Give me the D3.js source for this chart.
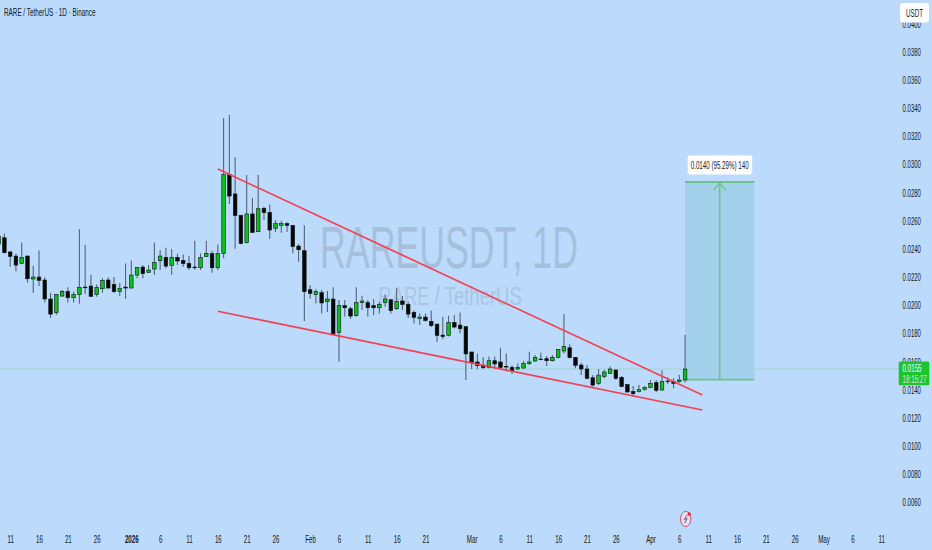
<!DOCTYPE html>
<html>
<head>
<meta charset="utf-8">
<script src="https://cdn.jsdelivr.net/npm/d3@7/dist/d3.min.js"></script>
<style>
  html, body { margin: 0; padding: 0; background: #bbdafc; overflow: hidden; }
  text { font-family: "Liberation Sans", sans-serif; }
</style>
</head>
<body>
<script>
// daily candles, 9 Dec 2025 to 7 Apr 2026
const firstDay = new Date(Date.UTC(2025, 11, 9));
const opens = [
  .02436,.02481,.02380,.02351,.02297,.02351,.02188,.02202,.02181,.02046,.01949,.02067,.02100,.02055,.02077,.02131,.02138,.02077,.02119,.02181,.02150,.02098,.02131,
  .02124,.02216,.02273,.02235,.02259,.02318,.02342,.02283,.02342,.02320,.02299,.02273,.02268,.02347,.02368,.02268,.02368,.02929,.02792,.02640,.02446,.02650,.02524,.02690,.02661,.02548,.02569,.02581,.02569,.02422,
  .02389,.02112,.02077,.02091,.02027,.02046,.01807,.01999,.01977,.01928,.02020,.02020,.01999,.01984,.02020,.02041,.01977,.02032,.02008,.01951,.01906,.01918,.01887,.01868,.01790,.01788,.01880,.01861,
  .01850,.01670,.01599,.01577,.01559,.01608,.01599,.01568,.01561,.01549,.01556,.01587,.01606,.01620,.01622,.01608,.01630,.01677,.01700,.01632,.01577,.01549,.01487,.01447,.01495,.01518,.01542,.01490,
  .01438,.01390,.01388,.01405,.01417,.01452,.01400,.01464,.01461,.01459,.01471
];
const closes = [
  .02493,.02375,.02349,.02287,.02342,.02190,.02202,.02178,.02046,.01939,.02079,.02100,.02055,.02079,.02129,.02126,.02065,.02129,.02178,.02124,.02098,.02122,.02124,
  .02216,.02271,.02226,.02252,.02306,.02351,.02280,.02342,.02316,.02297,.02268,.02268,.02342,.02370,.02268,.02368,.02929,.02777,.02638,.02441,.02650,.02519,.02687,.02659,.02536,.02581,.02581,.02569,.02418,.02396,
  .02098,.02086,.02100,.02018,.02046,.01795,.01999,.01984,.01925,.02020,.02032,.01984,.01984,.02008,.02046,.01963,.02029,.02008,.01939,.01916,.01918,.01894,.01857,.01788,.01779,.01880,.01847,.01835,
  .01656,.01594,.01573,.01559,.01608,.01585,.01561,.01563,.01535,.01561,.01589,.01599,.01632,.01615,.01608,.01632,.01689,.01708,.01630,.01575,.01549,.01483,.01435,.01506,.01528,.01549,.01483,.01424,
  .01386,.01374,.01402,.01417,.01447,.01398,.01459,.01459,.01447,.01471,.01549
];
const highs = [
  .02512,.02512,.02389,.02370,.02448,.02355,.02283,.02391,.02200,.02091,.02081,.02110,.02129,.02100,.02541,.02432,.02219,.02150,.02193,.02200,.02202,.02160,.02299,
  .02320,.02273,.02285,.02287,.02448,.02394,.02410,.02401,.02368,.02363,.02351,.02460,.02370,.02460,.02389,.02434,.03331,.03353,.03052,.02645,.02926,.02763,.02926,.02702,.02718,.02607,.02602,.02593,.02572,.02436,
  .02569,.02143,.02115,.02110,.02103,.02129,.02039,.02039,.01991,.02129,.02070,.02039,.02044,.02027,.02079,.02046,.02122,.02067,.02027,.01963,.01944,.01944,.01963,.01868,.01921,.01928,.01932,.01951,
  .01850,.01670,.01660,.01632,.01637,.01637,.01700,.01660,.01575,.01589,.01608,.01672,.01648,.01667,.01641,.01648,.01689,.01940,.01724,.01632,.01594,.01577,.01506,.01549,.01542,.01566,.01547,.01499,
  .01442,.01428,.01435,.01428,.01471,.01471,.01540,.01490,.01483,.01509,.01790
];
const lows = [
  .02418,.02370,.02275,.02242,.02294,.02162,.02091,.02138,.02022,.01911,.01932,.02063,.02022,.02022,.02013,.02081,.02063,.02063,.02089,.02122,.02091,.02067,.02048,
  .02124,.02193,.02193,.02233,.02219,.02252,.02264,.02219,.02287,.02275,.02252,.02254,.02252,.02344,.02233,.02252,.02335,.02721,.02403,.02434,.02441,.02515,.02522,.02607,.02472,.02522,.02517,.02522,.02370,.02311,
  .01890,.02048,.02015,.01944,.01954,.01793,.01601,.01920,.01904,.01920,.01968,.01920,.01930,.01944,.01991,.01944,.01968,.01968,.01911,.01873,.01861,.01885,.01845,.01741,.01760,.01779,.01838,.01802,
  .01471,.01549,.01549,.01549,.01554,.01549,.01542,.01535,.01514,.01542,.01549,.01577,.01599,.01613,.01570,.01603,.01625,.01660,.01622,.01554,.01506,.01476,.01424,.01435,.01483,.01514,.01471,.01419,
  .01381,.01353,.01383,.01395,.01412,.01386,.01395,.01442,.01412,.01452,.01454
];

// axis labels
const priceTicks = [.0060,.0080,.0100,.0120,.0140,.0160,.0180,.0200,.0220,.0240,.0260,.0280,.0300,.0320,.0340,.0360,.0380,.0400];
const timeTicks = [
  [2025,11,11],[2025,11,16],[2025,11,21],[2025,11,26],[2026,0,1],[2026,0,6],[2026,0,11],[2026,0,16],[2026,0,21],[2026,0,26],
  [2026,1,1],[2026,1,6],[2026,1,11],[2026,1,16],[2026,1,21],[2026,2,1],[2026,2,6],[2026,2,11],[2026,2,16],[2026,2,21],[2026,2,26],
  [2026,3,1],[2026,3,6],[2026,3,11],[2026,3,16],[2026,3,21],[2026,3,26],[2026,4,1],[2026,4,6],[2026,4,11]
].map(d => new Date(Date.UTC(d[0], d[1], d[2])));

// drawings: [day, price] pairs, days counted from 1 Jan 2026
const upperTrend = [[15, .02969], [99, .01364]];
const lowerTrend = [[15, .01959], [99, .01258]];
const targetDays = [96, 108];
const targetPrices = [.01473, .02877];
const targetLabel = "0.0140 (95.29%) 140";
const lastPrice = .0155;

const width = 932, height = 550;
const textColor = "#131722";

const day0 = Date.UTC(2026, 0, 1);
const dayDate = d => new Date(day0 + d * 864e5);
const days = opens.map((_, i) => d3.utcDay.offset(firstDay, i));

const x = d3.scaleUtc()
    .domain([dayDate(0), dayDate(95)])
    .range([131.3, 679.3]);
const y = d3.scaleLinear()
    .domain([.014, .038])
    .range([390, 52]);

const svg = d3.select("body").append("svg")
    .attr("width", width)
    .attr("height", height)
    .style("display", "block");

svg.append("rect")
    .attr("width", width)
    .attr("height", height)
    .attr("fill", "#bbdafc");

// squeeze text to the narrow look of the reference
function narrow(sel, k) {
  sel.each(function() {
    d3.select(this)
        .attr("lengthAdjust", "spacingAndGlyphs")
        .attr("textLength", this.getComputedTextLength() * k);
  });
}

// watermark
svg.append("text")
    .attr("x", 449).attr("y", 268)
    .attr("text-anchor", "middle")
    .attr("font-size", 60)
    .attr("fill", "#a6c0dc")
    .text("RAREUSDT, 1D")
    .call(narrow, 0.595);
svg.append("text")
    .attr("x", 450).attr("y", 305)
    .attr("text-anchor", "middle")
    .attr("font-size", 25)
    .attr("fill", "#abc5e2")
    .text("RARE / TetherUS")
    .call(narrow, 0.74);

// last price line
svg.append("line")
    .attr("x1", 0).attr("x2", 900)
    .attr("y1", y(lastPrice)).attr("y2", y(lastPrice))
    .attr("stroke", "#a6d8d6")
    .attr("stroke-width", 1.5);

// target box
const boxX0 = x(dayDate(targetDays[0])), boxX1 = x(dayDate(targetDays[1]));
const boxY0 = y(targetPrices[1]), boxY1 = y(targetPrices[0]);
const boxMid = (boxX0 + boxX1) / 2;
const target = svg.append("g");
target.append("rect")
    .attr("x", boxX0).attr("y", boxY0)
    .attr("width", boxX1 - boxX0).attr("height", boxY1 - boxY0)
    .attr("fill", "#a3d1ec");
target.selectAll("line.edge")
    .data([boxY0, boxY1])
    .join("line")
    .attr("class", "edge")
    .attr("x1", boxX0).attr("x2", boxX1)
    .attr("y1", d => d).attr("y2", d => d)
    .attr("stroke", "#6cc48a")
    .attr("stroke-width", 1.8);
target.append("path")
    .attr("d", d3.line()([[boxMid, boxY1], [boxMid, boxY0 + 1]]))
    .attr("stroke", "#6cc48a")
    .attr("stroke-width", 1.6)
    .attr("fill", "none");
target.append("path")
    .attr("d", d3.line()([[boxMid - 6, boxY0 + 8], [boxMid, boxY0 + 1], [boxMid + 6, boxY0 + 8]]))
    .attr("stroke", "#6cc48a")
    .attr("stroke-width", 1.3)
    .attr("fill", "none");
target.append("rect")
    .attr("x", boxMid - 32).attr("y", boxY0 - 26.5)
    .attr("width", 64.5).attr("height", 19)
    .attr("rx", 2)
    .attr("fill", "#fff");
target.append("text")
    .attr("x", boxMid).attr("y", boxY0 - 13.4)
    .attr("text-anchor", "middle")
    .attr("font-size", 10)
    .attr("fill", textColor)
    .text(targetLabel)
    .call(narrow, 0.62);

// candles
const candle = svg.append("g")
  .selectAll("g")
  .data(days.map((d, i) => ({date: d, o: opens[i], h: highs[i], l: lows[i], c: closes[i]})))
  .join("g");
candle.append("line")
    .attr("x1", d => x(d.date)).attr("x2", d => x(d.date))
    .attr("y1", d => y(d.h)).attr("y2", d => y(d.l))
    .attr("stroke", "#54637a")
    .attr("stroke-width", 1.1);
candle.append("rect")
    .attr("x", d => x(d.date) - 1.8)
    .attr("width", 3.6)
    .attr("y", d => y(Math.max(d.o, d.c)))
    .attr("height", d => Math.max(0.5, Math.abs(y(d.o) - y(d.c))))
    .attr("fill", d => d.c >= d.o ? "#0cc01e" : "#050505")
    .attr("stroke", "#0a1a0e")
    .attr("stroke-width", 0.6);

// trend lines
const trendLine = d3.line().x(d => x(dayDate(d[0]))).y(d => y(d[1]));
svg.selectAll("path.trend")
  .data([upperTrend, lowerTrend])
  .join("path")
    .attr("class", "trend")
    .attr("d", trendLine)
    .attr("fill", "none")
    .attr("stroke", "#f4404f")
    .attr("stroke-width", 1.7);

// price axis
const yAxis = svg.append("g")
    .attr("transform", "translate(902.6,0)")
    .call(d3.axisRight(y).tickValues(priceTicks).tickFormat(d3.format(".4f")).tickSize(0).tickPadding(0));
yAxis.select(".domain").remove();
yAxis.selectAll("text")
    .attr("font-size", 10)
    .attr("font-family", "Liberation Sans")
    .attr("fill", textColor)
    .call(narrow, 0.6);

// time axis
const timeFormat = d => d.getUTCDate() !== 1 ? String(d.getUTCDate())
    : d.getUTCMonth() === 0 ? String(d.getUTCFullYear())
    : d3.utcFormat("%b")(d);
const xAxis = svg.append("g")
    .attr("transform", "translate(0,530.5)")
    .call(d3.axisBottom(x).tickValues(timeTicks).tickFormat(timeFormat).tickSize(0).tickPadding(5));
xAxis.select(".domain").remove();
xAxis.selectAll("text")
    .attr("font-size", 10)
    .attr("font-family", "Liberation Sans")
    .attr("fill", textColor)
    .attr("font-weight", d => d.getUTCMonth() === 0 && d.getUTCDate() === 1 ? "bold" : "normal")
    .call(narrow, 0.62);

// title
svg.append("text")
    .attr("x", 4).attr("y", 16)
    .attr("font-size", 11)
    .attr("fill", textColor)
    .text("RARE / TetherUS · 1D · Binance")
    .call(narrow, 0.576);

// currency button, sits over the clipped top label
svg.append("rect")
    .attr("x", 900).attr("y", 3)
    .attr("width", 29).attr("height", 19.5)
    .attr("rx", 3)
    .attr("fill", "#fff");
svg.append("text")
    .attr("x", 914.5).attr("y", 16.5)
    .attr("text-anchor", "middle")
    .attr("font-size", 10)
    .attr("fill", textColor)
    .text("USDT")
    .call(narrow, 0.62);

// last price tag
svg.append("rect")
    .attr("x", 898.7).attr("y", y(lastPrice) - 7.4)
    .attr("width", 30.6).attr("height", 23.7)
    .attr("rx", 1.5)
    .attr("fill", "#1ec42b");
svg.append("text")
    .attr("x", 902.6).attr("y", y(lastPrice) + 3)
    .attr("font-size", 10)
    .attr("fill", "#fff")
    .text(d3.format(".4f")(lastPrice))
    .call(narrow, 0.62);
svg.append("text")
    .attr("x", 902.6).attr("y", y(lastPrice) + 14)
    .attr("font-size", 10)
    .attr("fill", "#c8f0cc")
    .text("18:15:27")
    .call(narrow, 0.62);

// earnings flash icon
const flash = svg.append("g").attr("transform", "translate(685.7,519)");
flash.append("ellipse")
    .attr("rx", 5.2).attr("ry", 7.6)
    .attr("fill", "#dfdff0")
    .attr("stroke", "#c4567c")
    .attr("stroke-width", 1);
flash.append("path")
    .attr("d", "M1.5,-4 L-1.5,0.6 L1.5,-0.6 L-1,4")
    .attr("fill", "none")
    .attr("stroke", "#7a4a68")
    .attr("stroke-width", 0.9);
flash.append("circle")
    .attr("cx", 3.5).attr("cy", -5)
    .attr("r", 1.7)
    .attr("fill", "#f0212f");
</script>
</body>
</html>
